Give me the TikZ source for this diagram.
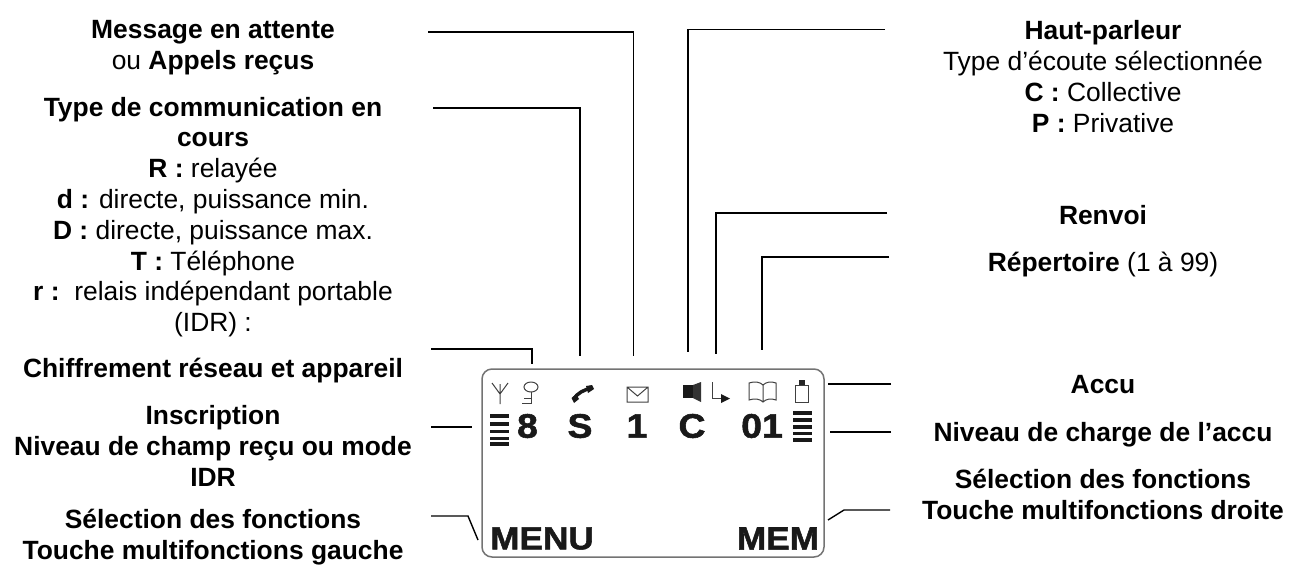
\documentclass[tikz,border=0pt]{standalone}
\usepackage{fontspec}
\setmainfont{Liberation Sans}
\newfontfamily\lcdf[BoldFeatures={FakeBold=1.6,FakeStretch=1.1}]{Liberation Sans}
\tikzset{
 x=1pt,y=-1pt,
 lbl/.style={align=center,inner sep=0pt,font=\fontsize{26.4}{30.8}\selectfont,text=black},
 lcd/.style={inner sep=0pt,font=\fontsize{34}{34}\lcdf\bfseries\selectfont,text=black!90},
 lcdb/.style={inner sep=0pt,font=\fontsize{32}{32}\lcdf\bfseries\selectfont,text=black!90},
 lead/.style={draw=black,line width=1.4pt,line join=miter},
 screen/.style={draw=black!55,line width=1.5pt,rounded corners=10pt},
 icon/.style={draw=black!75,line width=1pt},
 bar/.style={draw=black!90,line width=3.2pt}
}
\begin{document}
\begin{tikzpicture}
\useasboundingbox (0,0) rectangle (1289,565);
\node[lbl] (t1) at (213,48) {\textbf{Message en attente}\\ou \textbf{Appels reçus}};
\node[lbl] (t2) at (213,217) {\textbf{Type de communication en}\\\textbf{cours}\\\textbf{R :} relayée\\\textbf{d :} directe, puissance min.\\\textbf{D :} directe, puissance max.\\\textbf{T :} Téléphone\\\textbf{r :}\ \ relais indépendant portable\\(IDR) :};
\node[lbl] (t3) at (213,370.5) {\textbf{Chiffrement réseau et appareil}};
\node[lbl] (t4) at (213,446) {\textbf{Inscription}\\\textbf{Niveau de champ reçu ou mode}\\\textbf{IDR}};
\node[lbl] (t5) at (213,537.5) {\textbf{Sélection des fonctions}\\\textbf{Touche multifonctions gauche}};
\node[lbl] (t6) at (1103,76.5) {\textbf{Haut-parleur}\\Type d’écoute sélectionnée\\\textbf{C :} Collective\\\textbf{P :} Privative};
\node[lbl] (t7) at (1103,215) {\textbf{Renvoi}};
\node[lbl] (t8) at (1103,265) {\textbf{Répertoire} (1 à 99)};
\node[lbl] (t9) at (1103,385) {\textbf{Accu}};
\node[lbl] (t10) at (1103,434.5) {\textbf{Niveau de charge de l’accu}};
\node[lbl] (t11) at (1103,494.5) {\textbf{Sélection des fonctions}\\\textbf{Touche multifonctions droite}};
% screen
\draw[screen] (482,369) rectangle (824,557);
% leaders
\coordinate (a1) at (428,32); \coordinate (a2) at (633.5,356);
\draw[lead] (a1) -| (a2);
\coordinate (b1) at (433,108); \coordinate (b2) at (580,356);
\draw[lead] (b1) -| (b2);
\coordinate (c1) at (431,349); \coordinate (c2) at (532,364);
\draw[lead] (c1) -| (c2);
\coordinate (d1) at (431,427); \coordinate (d2) at (472,427);
\draw[lead] (d1) -- (d2);
\coordinate (e1) at (431,516); \coordinate (e2) at (478,540);
\draw[lead] (e1) -- (468,516) -- (e2);
\coordinate (f1) at (885,29.5); \coordinate (f2) at (688,352);
\draw[lead] (f1) -| (f2);
\coordinate (g1) at (887,213); \coordinate (g2) at (716,354);
\draw[lead] (g1) -| (g2);
\coordinate (h1) at (889,257); \coordinate (h2) at (762,350);
\draw[lead] (h1) -| (h2);
\coordinate (i1) at (891,384); \coordinate (i2) at (828,384);
\draw[lead] (i1) -- (i2);
\coordinate (j1) at (891,432); \coordinate (j2) at (830,432);
\draw[lead] (j1) -- (j2);
\coordinate (k1) at (890,510); \coordinate (k2) at (828,520);
\draw[lead] (k1) -- (844,510) -- (k2);
% lcd text
\node[lcd] (l8) at (527.5,426) {8};
\node[lcd] (lS) at (580,426) {S};
\node[lcd] (l1) at (637,426) {1};
\node[lcd] (lC) at (692,426) {C};
\node[lcd] (l01) at (762,426) {01};
\node[lcdb] (lM) at (542,538.5) {MENU};
\node[lcdb] (lN) at (778,538.5) {MEM};
% antenna
\draw[icon] (500,384) -- (500,404) (492,383) -- (500,394) -- (508,383);
% key
\draw[icon] (531,387) ellipse (7 and 5);
\draw[icon] (531,392) -- (531,403) -- (522,403) (531,398) -- (524,398);
% handset
\draw[black!90,line width=3.5pt,line cap=round] (574,399) .. controls (577,393) and (584,390) .. (591,388);
\fill[black!90] (571.5,398) -- (576,394) -- (579,399) -- (574,403) -- cycle;
\fill[black!90] (586,386) -- (592,385) -- (594,389) -- (588,393) -- cycle;
% envelope
\draw[icon] (627,387) rectangle (648,402) (627,387) -- (637.5,396) -- (648,387);
% speaker
\fill[black!90] (683,385) rectangle (693,398);
\fill[black!80] (693,385) -- (701,382) -- (701,402) -- (693,398) -- cycle;
% forward
\draw[icon] (712,382) -- (712,398.5) -- (723,398.5);
\fill[black!90] (721,394) -- (730,398.5) -- (721,403) -- cycle;
% book
\draw[icon] (749,383) .. controls (755,381) and (760,382) .. (763,385) .. controls (766,382) and (771,381) .. (776,383) -- (776,400) .. controls (771,398) and (766,399) .. (763,402) .. controls (760,399) and (755,398) .. (749,400) -- cycle (763,385) -- (763,402);
% battery
\draw[icon] (795.5,385) rectangle (808,402);
\fill[black!85] (799,380) rectangle (805,385);
% level bars
\foreach \y in {416,424,431.5,438.5,444} \draw[bar] (490,\y) -- (509,\y);
\foreach \y in {413,420,427,433.5,440} \draw[bar] (793,\y) -- (812,\y);
\end{tikzpicture}
\end{document}
